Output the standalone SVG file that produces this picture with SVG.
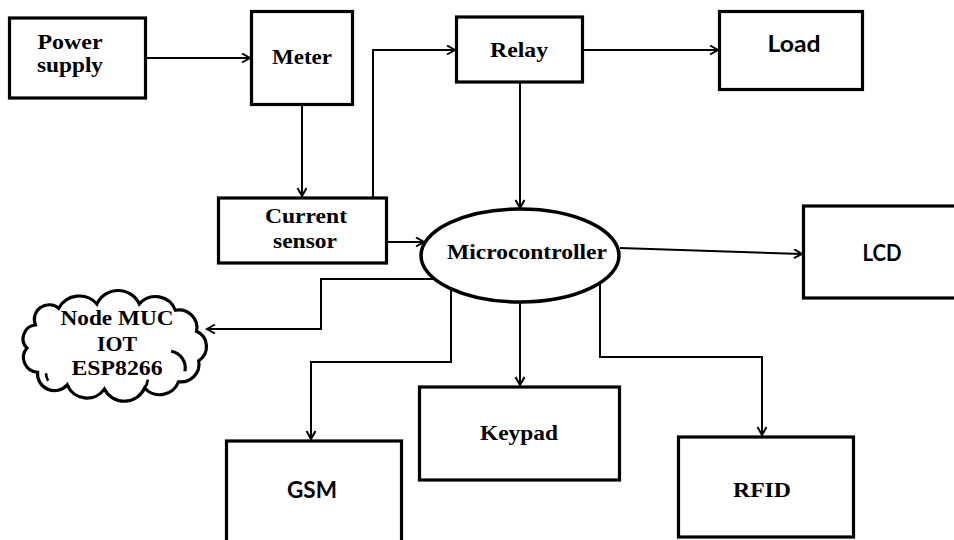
<svg xmlns="http://www.w3.org/2000/svg" width="954" height="540" viewBox="0 0 954 540">
<style>
.box{fill:#fff;stroke:#000;stroke-width:3.2}
.ser{font-family:"Liberation Serif","Times New Roman",serif;font-weight:bold;font-size:21px;fill:#000;text-anchor:middle}
.san{font-family:Lato,"Liberation Sans",Arial,sans-serif;font-weight:bold;font-size:23px;fill:#000;text-anchor:middle}
.con{fill:none;stroke:#000;stroke-width:2}
</style>
<defs>
<marker id="arr" markerUnits="userSpaceOnUse" markerWidth="12" markerHeight="12" refX="9" refY="5" orient="auto">
<path d="M1,0.5 L9,5 L1,9.5" fill="none" stroke="#000" stroke-width="2"/>
</marker>
</defs>
<rect width="954" height="540" fill="#fff"/>
<g id="connectors">
<path class="con" d="M146 58 H250" marker-end="url(#arr)"/>
<path class="con" d="M302 105 V196" marker-end="url(#arr)"/>
<path class="con" d="M373 198 V50 H455" marker-end="url(#arr)"/>
<path class="con" d="M583 50 H718" marker-end="url(#arr)"/>
<path class="con" d="M520 82 V208" marker-end="url(#arr)"/>
<path class="con" d="M387 242 H424" marker-end="url(#arr)"/>
<path class="con" d="M620 248 L802 254" marker-end="url(#arr)"/>
<path class="con" d="M435 279 H321 V329 H207" marker-end="url(#arr)"/>
<path class="con" d="M451 289 V362 H311 V439" marker-end="url(#arr)"/>
<path class="con" d="M520 302 V385" marker-end="url(#arr)"/>
<path class="con" d="M600 283 V357 H762 V435" marker-end="url(#arr)"/>
</g>
<g id="power">
<rect class="box" x="9.5" y="18" width="136" height="80"/>
<text class="ser" x="70" y="49" textLength="65" lengthAdjust="spacingAndGlyphs">Power</text>
<text class="ser" x="70" y="72" textLength="66" lengthAdjust="spacingAndGlyphs">supply</text>
</g>
<g id="meter">
<rect class="box" x="251.5" y="11.5" width="101" height="93"/>
<text class="ser" x="302" y="64" textLength="60" lengthAdjust="spacingAndGlyphs">Meter</text>
</g>
<g id="relay">
<rect class="box" x="456.5" y="17" width="126" height="65"/>
<text class="ser" x="519" y="57" textLength="58" lengthAdjust="spacingAndGlyphs">Relay</text>
</g>
<g id="load">
<rect class="box" x="719.5" y="11.5" width="143" height="78"/>
<text class="san" x="794" y="52" textLength="53" lengthAdjust="spacingAndGlyphs">Load</text>
</g>
<g id="current">
<rect class="box" x="218.5" y="198" width="168" height="65"/>
<text class="ser" x="306" y="223" textLength="82" lengthAdjust="spacingAndGlyphs">Current</text>
<text class="ser" x="305" y="248" textLength="64" lengthAdjust="spacingAndGlyphs">sensor</text>
</g>
<g id="micro">
<ellipse cx="520" cy="255.5" rx="99" ry="46.5" fill="#fff" stroke="#000" stroke-width="3.5"/>
<text class="ser" x="527" y="259" textLength="160" lengthAdjust="spacingAndGlyphs">Microcontroller</text>
</g>
<g id="lcd">
<rect class="box" x="803.5" y="206" width="160" height="92"/>
<text class="san" x="882" y="261" textLength="39" lengthAdjust="spacingAndGlyphs">LCD</text>
</g>
<g id="node">
<g transform="translate(116 346) scale(1.06 1.05) translate(-116 -346)">
<path d="M40 326 A14 14 0 0 1 62 310 A22 22 0 0 1 98 306 A22 22 0 0 1 138 306 A20 20 0 0 1 172 312 A17 17 0 0 1 192 332 A16 16 0 0 1 194 360 A17 17 0 0 1 175 380 A19 19 0 0 1 143 386 A21 21 0 0 1 105 387 A20 20 0 0 1 70 383 A16 16 0 0 1 42 371 A14 14 0 0 1 32 348 A13 13 0 0 1 40 326 Z" fill="#fff" stroke="#000" stroke-width="3"/>
<path d="M168 351 A16 16 0 0 1 181 370" fill="none" stroke="#000" stroke-width="3"/>
<path d="M143 386 A16 16 0 0 0 146 378" fill="none" stroke="#000" stroke-width="2.5"/>
<path d="M52 379 A12 12 0 0 1 50 372" fill="none" stroke="#000" stroke-width="2.5"/>
</g>
<text class="ser" x="117" y="325" textLength="113" lengthAdjust="spacingAndGlyphs">Node MUC</text>
<text class="ser" x="117" y="351" textLength="40" lengthAdjust="spacingAndGlyphs">IOT</text>
<text class="ser" x="117" y="375" textLength="91" lengthAdjust="spacingAndGlyphs">ESP8266</text>
</g>
<g id="gsm">
<rect class="box" x="226.5" y="441" width="175" height="120"/>
<text class="san" x="312" y="498" textLength="50" lengthAdjust="spacingAndGlyphs">GSM</text>
</g>
<g id="keypad">
<rect class="box" x="419.5" y="387" width="200" height="93"/>
<text class="ser" x="519" y="440" textLength="78" lengthAdjust="spacingAndGlyphs">Keypad</text>
</g>
<g id="rfid">
<rect class="box" x="678.5" y="437" width="175" height="100"/>
<text class="ser" x="762" y="497" textLength="58" lengthAdjust="spacingAndGlyphs">RFID</text>
</g>
</svg>
